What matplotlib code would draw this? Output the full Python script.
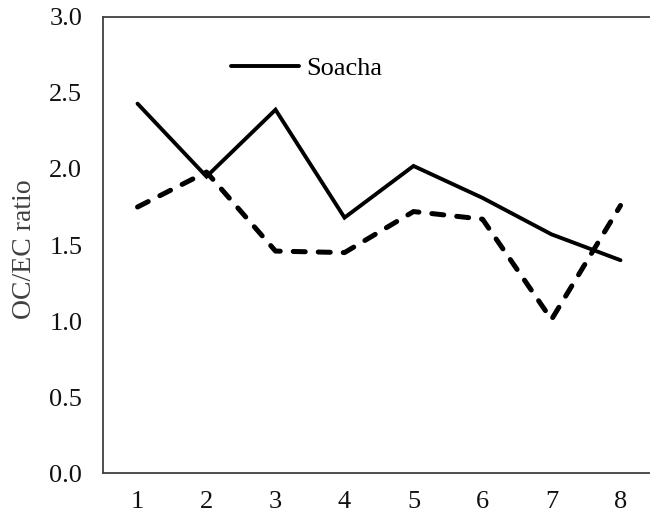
import matplotlib
matplotlib.use("Agg")
import matplotlib.pyplot as plt

# datos
muestras = [1, 2, 3, 4, 5, 6, 7, 8]
soacha = [2.43, 1.95, 2.39, 1.68, 2.02, 1.81, 1.57, 1.40]
otra_serie = [1.75, 1.98, 1.46, 1.45, 1.72, 1.67, 1.01, 1.76]
yticks = [0.0, 0.5, 1.0, 1.5, 2.0, 2.5, 3.0]

plt.rcParams['font.family'] = ['Liberation Serif', 'DejaVu Serif']

fig = plt.figure(figsize=(6.5, 5.21), dpi=100)
ax = fig.add_axes([0.1585, 0.0921, 0.8492, 0.8753])

# serie continua (Soacha)
ax.plot(muestras, soacha, color='black', linewidth=2.8,
        solid_capstyle='round', solid_joinstyle='miter', label='Soacha')
# serie discontinua
ax.plot(muestras, otra_serie, color='black', linewidth=3.6,
        linestyle=(0, (2.4, 2.6)), dash_capstyle='round')

ax.set_xlim(0.5, 8.5)
ax.set_ylim(0, 3.0)
ax.set_xticks(muestras)
ax.set_yticks(yticks)
ax.set_yticklabels([f"{v:.1f}" for v in yticks])
ax.tick_params(axis='both', length=0, labelsize=19, colors='#111111')
ax.tick_params(axis='y', pad=15)
ax.tick_params(axis='x', pad=13)

for lado in ['left', 'top', 'bottom']:
    ax.spines[lado].set_color('#404040')
    ax.spines[lado].set_linewidth(1.3)
ax.spines['right'].set_visible(False)

ax.set_ylabel('OC/EC ratio', fontsize=20, color='#404040')
ax.yaxis.set_label_coords(-0.12, 0.49)

ax.legend(loc='upper left', bbox_to_anchor=(0.188, 0.965), frameon=False,
          fontsize=19, handlelength=2.6, handletextpad=0.25)

fig.savefig('out.png', dpi=100)
